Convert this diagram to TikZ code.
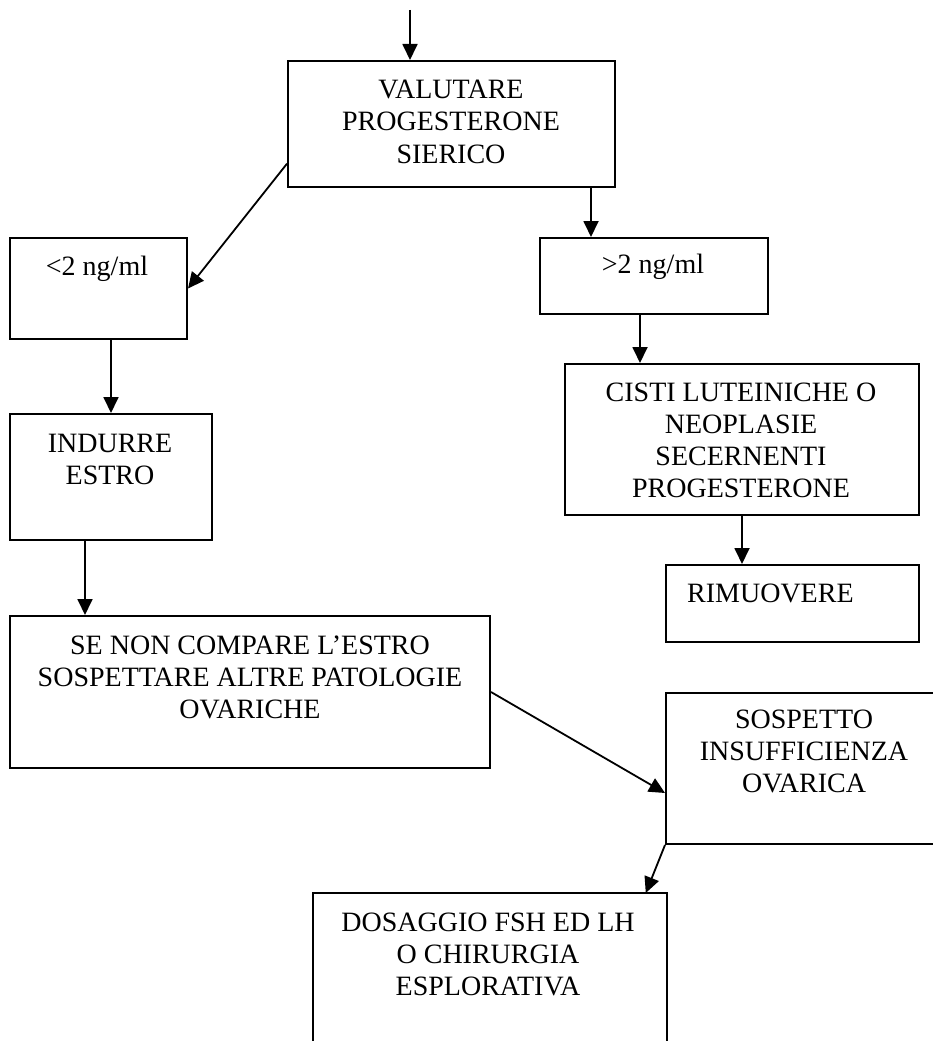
\documentclass[tikz,border=0pt]{standalone}
\usepackage{fontspec}
\setmainfont{Liberation Serif}
\usetikzlibrary{arrows.meta,calc}
% centred stack of lines whose baseline is that of its first line
\newcommand{\linestack}[1]{\begin{tabular}[t]{@{}c@{}}#1\end{tabular}}

\begin{document}
\begin{tikzpicture}[x=1pt,y=-1pt,
  box/.style={draw, line width=2pt, inner sep=0pt, anchor=north west},
  txt/.style={anchor=base, inner sep=0pt, font=\fontsize{28}{32}\selectfont},
  arr/.style={line width=1.8pt, -{Triangle[length=16pt,width=15pt]}}]

\useasboundingbox (0,0) rectangle (933,1041);
\clip (0,0) rectangle (933,1041);

% boxes
\node[box, minimum width=327pt, minimum height=126pt] (b1)  at (287,60)  {};
\node[box, minimum width=177pt, minimum height=101pt] (lt)  at (9,237)   {};
\node[box, minimum width=202pt, minimum height=126pt] (ind) at (9,413)   {};
\node[box, minimum width=480pt, minimum height=152pt] (sen) at (9,615)   {};
\node[box, minimum width=228pt, minimum height=76pt]  (gt)  at (539,237) {};
\node[box, minimum width=354pt, minimum height=151pt] (cis) at (564,363) {};
\node[box, minimum width=253pt, minimum height=77pt]  (rim) at (665,564) {};
\node[box, minimum width=280pt, minimum height=151pt] (sos) at (665,692) {};
% last box runs off the bottom of the page, so it has no lower side
\node[box, draw=none, minimum width=352pt, minimum height=170pt] (dos) at (313,893) {};
\draw[line width=2pt] (dos.south west) |- (dos.north east) -- (dos.south east);

% texts
\node[txt] (t1)   at (451,99)  {\linestack{VALUTARE\\PROGESTERONE\\SIERICO}};
\node[txt] (tlt)  at (97,275)  {<2 ng/ml};
\node[txt] (tind) at (110,452) {\linestack{INDURRE\\ESTRO}};
\node[txt] (tsen) at (250,654) {\linestack{SE NON COMPARE L’ESTRO\\SOSPETTARE ALTRE PATOLOGIE\\OVARICHE}};
\node[txt] (tgt)  at (653,273) {>2 ng/ml};
\node[txt] (tcis) at (741,401) {\linestack{CISTI LUTEINICHE O\\NEOPLASIE\\SECERNENTI\\PROGESTERONE}};
\node[txt, anchor=base west] (trim) at (687,602) {RIMUOVERE};
\node[txt] (tsos) at (804,728) {\linestack{SOSPETTO\\INSUFFICIENZA\\OVARICA}};
\node[txt] (tdos) at (488,931) {\linestack{DOSAGGIO FSH ED LH\\O CHIRURGIA\\ESPLORATIVA}};

% connectors
\coordinate (entry) at (410,10);
\coordinate (b1out) at ($(b1.south east)+(-25,0)$);
\coordinate (indout) at ($(ind.south west)+(76,0)$);
\coordinate (gtout) at ($(gt.south west)+(101,0)$);

\draw[arr] (entry) -- (entry |- b1.north);
\draw[arr] ($(b1.north west)!0.81!(b1.south west)$) -- (lt.east);
\draw[arr] (b1out) -- (b1out |- gt.north);
\draw[arr] (lt.south -| ind.north) -- (ind.north);
\draw[arr] (indout) -- (indout |- sen.north);
\draw[arr] (gtout) -- (gtout |- cis.north);
\draw[arr] (cis.south) -- (cis.south |- rim.north);
\draw[arr] (sen.east) -- ($(sos.north west)!0.66!(sos.south west)$);
\draw[arr] (sos.south west) -- ($(dos.north west)!0.94!(dos.north east)$);
\end{tikzpicture}
\end{document}
